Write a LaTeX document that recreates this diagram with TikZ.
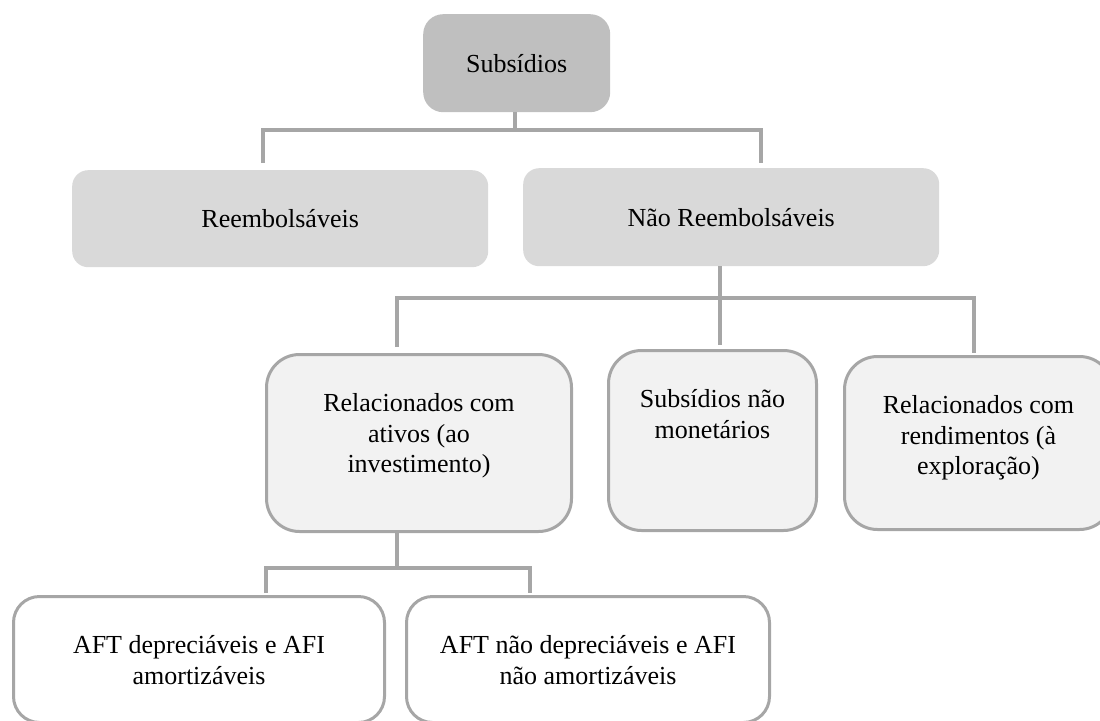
\documentclass[tikz,border=0pt]{standalone}
\usepackage{fontspec}
\setmainfont{Liberation Serif}
\usepackage{tikz}
\usepackage{color}
\definecolor{subsgray}{HTML}{BFBFBF}
\definecolor{tipogray}{HTML}{D9D9D9}
\definecolor{ramogray}{HTML}{F2F2F2}
\definecolor{linegray}{HTML}{A6A6A6}
\newcommand{\toptext}[3]{\parbox[c][#1][t]{#2}{\centering\rule{0pt}{57pt}#3}}

\begin{document}
\begin{tikzpicture}[x=1pt, y=-1pt,
      font=\fontsize{26}{30.5}\selectfont,
      topo/.style={rounded corners=20pt, fill=subsgray, anchor=north west, inner sep=0pt},
      tipo/.style={rounded corners=16pt, fill=tipogray, anchor=north west, inner sep=0pt},
      ramo/.style={rounded corners=33pt, fill=ramogray, draw=linegray, line width=3pt,
                   anchor=north west, inner sep=0pt},
      folha/.style={rounded corners=26pt, fill=white, draw=linegray, line width=3pt,
                    anchor=north west, inner sep=0pt},
      conn/.style={draw=linegray, line width=3.5pt}]
       \useasboundingbox (0,0) rectangle (1100,720);
       \clip (0,0) rectangle (1100,720);

       % boxes
       \node[topo, minimum width=187pt, minimum height=98pt] (subs) at (423,14) {Subsídios};
       \node[tipo, minimum width=416pt, minimum height=97pt] (reemb) at (72,170) {Reembolsáveis};
       \node[tipo, minimum width=416pt, minimum height=98pt] (naoreemb) at (523,168) {Não Reembolsáveis};
       \node[ramo, minimum width=305pt, minimum height=177pt] (ativos) at (265,353)
            {\toptext{177pt}{290pt}{Relacionados com\\ ativos (ao\\ investimento)}};
       \node[ramo, minimum width=208pt, minimum height=180pt] (naomonet) at (607,349)
            {\toptext{180pt}{195pt}{Subsídios não\\ monetários}};
       \node[ramo, minimum width=268pt, minimum height=173pt] (rendim) at (843,355)
            {\toptext{173pt}{255pt}{Relacionados com\\ rendimentos (à\\ exploração)}};
       \node[folha, minimum width=371pt, minimum height=126pt] (aftdep) at (12,595)
            {\toptext{126pt}{355pt}{AFT depreciáveis e AFI\\ amortizáveis}};
       \node[folha, minimum width=363pt, minimum height=126pt] (aftnao) at (405,595)
            {\toptext{126pt}{350pt}{AFT não depreciáveis e AFI\\ não amortizáveis}};

       % junctions and free ends
       \coordinate (hubA) at (515,130);
       \coordinate (pReemb) at (263,163);
       \coordinate (pNao) at (761,163);
       \coordinate (hubB) at (720,298);
       \coordinate (pAtivos) at (397,347);
       \coordinate (pMonet) at (720,345);
       \coordinate (pRend) at (974,353);
       \coordinate (hubC) at (397,568);
       \coordinate (pDep) at (266,593);
       \coordinate (pNaoDep) at (530,593);

       % connectors
       \draw[conn] (subs.south -| hubA) -- (hubA);
       \draw[conn] (pReemb) |- (hubA) -| (pNao);
       \draw[conn] (naoreemb.south -| hubB) -- (pMonet);
       \draw[conn] (pAtivos) |- (hubB) -| (pRend);
       \draw[conn] (ativos.south -| hubC) -- (hubC);
       \draw[conn] (pDep) |- (hubC) -| (pNaoDep);
\end{tikzpicture}
\end{document}
